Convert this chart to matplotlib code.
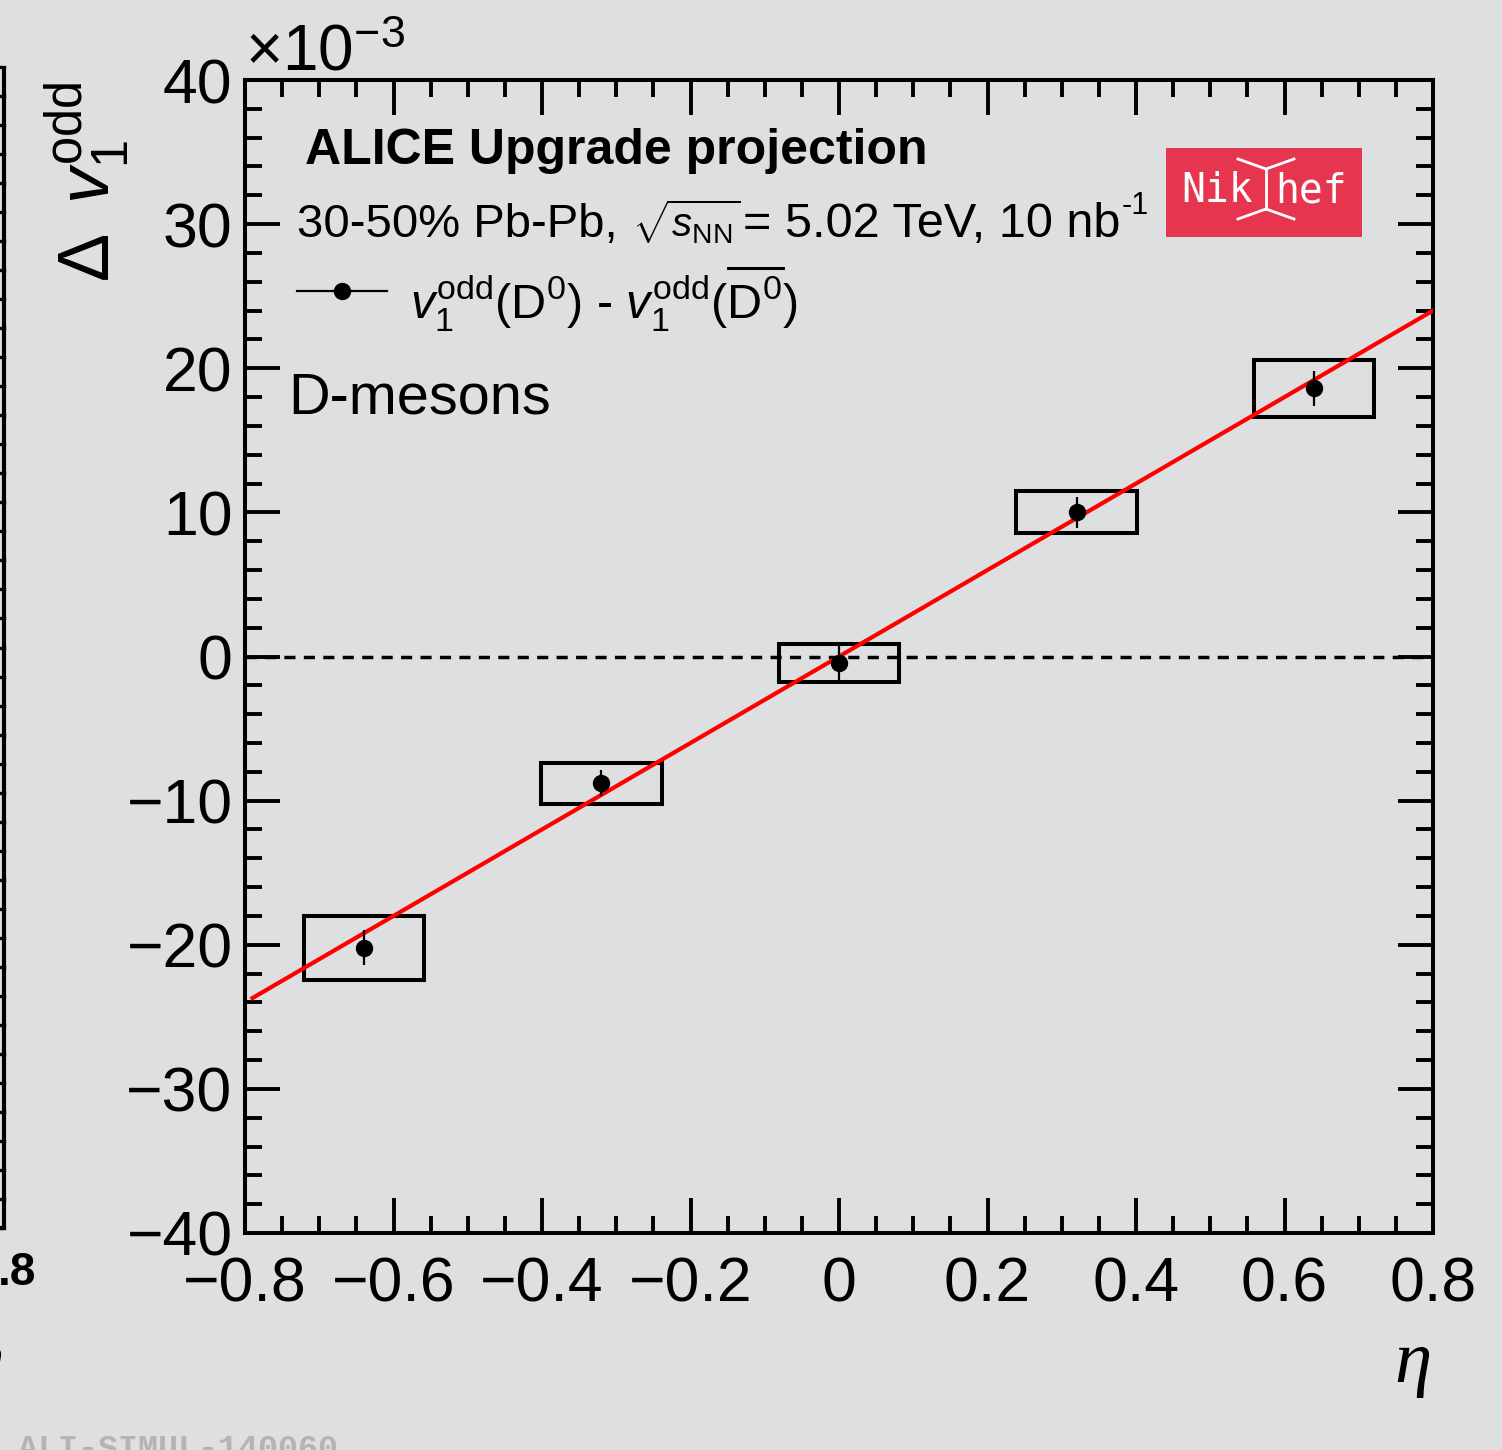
import numpy as np
import matplotlib.pyplot as plt
from matplotlib.patches import Rectangle
from matplotlib.ticker import MultipleLocator, FuncFormatter

plt.rcParams['font.family'] = ['Liberation Sans', 'DejaVu Sans']
plt.rcParams['mathtext.fontset'] = 'custom'
plt.rcParams['mathtext.rm'] = 'Liberation Sans'
plt.rcParams['mathtext.it'] = 'Liberation Sans:italic'
plt.rcParams['mathtext.bf'] = 'Liberation Sans:bold'

# D0 - D0bar directed flow difference vs pseudorapidity (units of 1e-3)
eta = [-0.64, -0.32, 0.0, 0.32, 0.64]
dv1 = [-20.2, -8.8, -0.45, 10.0, 18.6]
stat_err = [1.2, 0.9, 1.28, 1.07, 1.2]
syst_err = [2.22, 1.42, 1.3, 1.46, 1.98]
syst_halfwidth = [0.081, 0.081, 0.081, 0.081, 0.081]

# linear fit to the points
fit_slope = 30.0
fit_intercept = 0.0
fit_range = [-0.79, 0.80]

BG = '#dedfe1'
W, H = 1502, 1450

fig = plt.figure(figsize=(W / 100, H / 100), dpi=100, facecolor=BG)
ax = fig.add_axes([245 / W, 1 - 1233 / H, 1188 / W, 1153 / H], facecolor=BG)

# systematic boxes
for x, y, sx, sy in zip(eta, dv1, syst_halfwidth, syst_err):
    ax.add_patch(Rectangle((x - sx, y - sy), 2 * sx, 2 * sy, facecolor='none',
                           edgecolor='black', lw=2.9, zorder=3))

ax.axhline(0, color='black', lw=2.5, ls=(0, (3.2, 2.4)), zorder=2)

fx = np.array(fit_range)
ax.plot(fx, fit_intercept + fit_slope * fx, color='#ff0000', lw=3.0, zorder=4)

ax.errorbar(eta, dv1, yerr=stat_err, fmt='o', color='black', ms=11.5,
            elinewidth=1.6, capsize=0, zorder=5)

ax.set_xlim(-0.8, 0.8)
ax.set_ylim(-40, 40)
ax.xaxis.set_major_locator(MultipleLocator(0.2))
ax.xaxis.set_minor_locator(MultipleLocator(0.05))
ax.yaxis.set_major_locator(MultipleLocator(10))
ax.yaxis.set_minor_locator(MultipleLocator(2))


def fmt(v, pos):
    s = '%g' % round(v, 6)
    return '0' if s in ('0', '-0') else s.replace('-', '\u2212')


ax.xaxis.set_major_formatter(FuncFormatter(fmt))
ax.yaxis.set_major_formatter(FuncFormatter(fmt))
ax.tick_params(which='both', direction='in', top=True, right=True, width=2.8,
               labelsize=45, color='black')
ax.tick_params(which='major', length=25)
ax.tick_params(which='minor', length=12.5)
ax.tick_params(axis='x', pad=16)
ax.tick_params(axis='y', pad=9)
for sp in ax.spines.values():
    sp.set_linewidth(2.9)

# annotations drawn in pixel coordinates on a full-figure overlay
ov = fig.add_axes([0, 0, 1, 1], zorder=10)
ov.set_xlim(0, W)
ov.set_ylim(H, 0)
ov.axis('off')
ov.patch.set_alpha(0)

ov.text(245, 70, r'$\times10^{-3}$', fontsize=46, va='baseline', ha='left')
ov.text(110, 282, r'$\Delta\ \,v_{1}^{\mathrm{odd}}$', fontsize=52, rotation=90,
        rotation_mode='anchor', ha='left', va='baseline')
ov.text(1432, 1382, '\u03b7', family='Liberation Serif', style='italic',
        fontsize=54, ha='right', va='baseline')

ov.text(305, 164, 'ALICE Upgrade projection', fontsize=36, fontweight='bold',
        va='baseline')
ov.text(297, 237, '30-50% Pb-Pb,', fontsize=34, va='baseline')
ov.text(632, 237, r'$\sqrt{s_{\mathrm{NN}}}$', fontsize=29, va='baseline')
ov.text(743, 237, '= 5.02 TeV, 10 nb', fontsize=35, va='baseline')
ov.text(1122, 214, '-1', fontsize=22, va='baseline')
ov.plot([297, 387], [291, 291], color='black', lw=1.6)
ov.plot([342], [291], 'o', color='black', ms=11.5)
ov.text(410, 319,
        r'$v_{1}^{\mathrm{odd}}(\mathrm{D}^{0})$ - $v_{1}^{\mathrm{odd}}(\overline{\mathrm{D}^{0}})$',
        fontsize=35, va='baseline')
ov.text(288, 413, 'D-mesons', fontsize=41.5, va='baseline')

# Nikhef logo
ov.add_patch(Rectangle((1166, 148), 196, 89, facecolor='#e6354e', edgecolor='none'))
ov.text(1181, 202, 'Nik', family='DejaVu Sans Mono', fontsize=28.5, color='white',
        va='baseline')
ov.text(1275, 202, 'hef', family='DejaVu Sans Mono', fontsize=28.5, color='white',
        va='baseline')
ov.plot([1238, 1266, 1294], [159, 169, 159], color='white', lw=2)
ov.plot([1238, 1266, 1294], [219, 209, 219], color='white', lw=2)
ov.plot([1266, 1266], [169, 209], color='white', lw=2)

# edge of the neighbouring panel
ov.plot([4, 4, -5], [67, 1228, 1228], color='black', lw=3, solid_capstyle='butt')
for ty in np.linspace(67, 1228, 41):
    ov.plot([0, 4], [ty, ty], color='black', lw=2.4)
ov.text(36, 1285, '.8', fontsize=33, fontweight='bold', ha='right', va='baseline')
ov.text(4, 1382, '\u03b7', family='Liberation Serif', style='italic',
        fontsize=54, ha='right', va='baseline')

ov.text(18, 1458, 'ALI-SIMUL-140060', family='Liberation Mono', fontweight='bold',
        fontsize=24, color='#b3b4b6', va='baseline')

fig.savefig('out.png', dpi=100, facecolor=BG)
